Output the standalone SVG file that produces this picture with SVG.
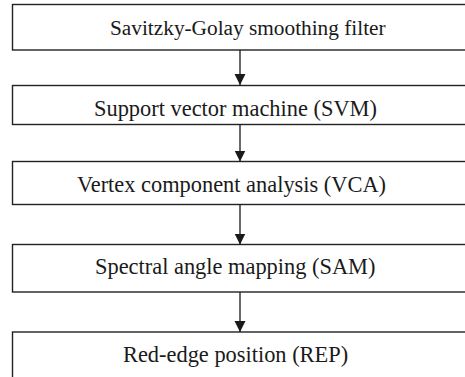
<svg xmlns="http://www.w3.org/2000/svg" width="465" height="377" viewBox="0 0 465 377">
<defs>
<style>
.box{fill:#fff;stroke:#222;stroke-width:1.4}
.lbl{font-family:"Liberation Serif","Times New Roman",serif;font-size:22.4px;fill:#1a1a1a}
.conn{stroke:#1a1a1a;stroke-width:1.3;fill:none}
</style>
<marker id="ah" markerUnits="userSpaceOnUse" markerWidth="12" markerHeight="12" viewBox="0 0 12 12" refX="11" refY="6" orient="auto">
<path d="M0,0.5 L11,6 L0,11.5 Z" fill="#1a1a1a"/>
</marker>
</defs>
<rect width="465" height="377" fill="#fff"/>
<g id="n1"><rect class="box" x="12.5" y="4.5" width="470" height="45.5"/><text class="lbl" x="110" y="35" style="font-size:21.3px">Savitzky-Golay smoothing filter</text></g>
<g id="n2"><rect class="box" x="12.5" y="85.5" width="470" height="39"/><text class="lbl" x="94" y="116">Support vector machine (SVM)</text></g>
<g id="n3"><rect class="box" x="12.5" y="161.5" width="470" height="43"/><text class="lbl" x="77" y="192">Vertex component analysis (VCA)</text></g>
<g id="n4"><rect class="box" x="12.5" y="244.5" width="470" height="47.5"/><text class="lbl" x="95" y="274">Spectral angle mapping (SAM)</text></g>
<g id="n5"><rect class="box" x="12.5" y="332" width="470" height="60"/><text class="lbl" x="123" y="362">Red-edge position (REP)</text></g>
<g id="connectors">
<line class="conn" x1="240" y1="50" x2="240" y2="85" marker-end="url(#ah)"/>
<line class="conn" x1="240" y1="124.5" x2="240" y2="161.5" marker-end="url(#ah)"/>
<line class="conn" x1="240" y1="204.5" x2="240" y2="244.5" marker-end="url(#ah)"/>
<line class="conn" x1="240" y1="292" x2="240" y2="332" marker-end="url(#ah)"/>
</g>
</svg>
